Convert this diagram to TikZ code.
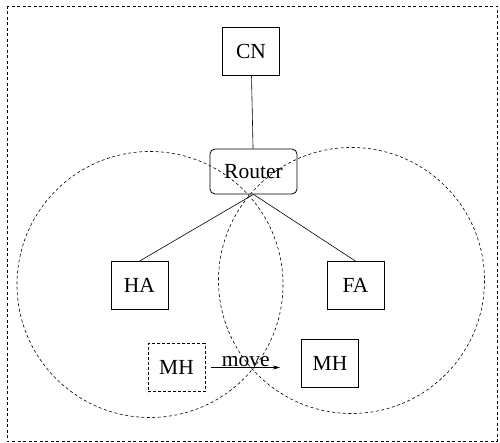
\documentclass[tikz,border=0pt]{standalone}
\usepackage{fontspec}
\setmainfont{Liberation Serif}
\usetikzlibrary{arrows.meta,calc}
\begin{document}
\begin{tikzpicture}[x=1pt,y=-1pt,
  box/.style={draw, line width=0.8pt, minimum width=57pt, minimum height=48pt, inner sep=0pt, font=\fontsize{21.5}{24}\selectfont},
  dbox/.style={box, dashed, dash pattern=on 3pt off 2pt},
  rbox/.style={box, rounded corners=5pt, minimum width=87pt, minimum height=45pt},
  cell/.style={draw, dash pattern=on 3pt off 2.5pt, line width=0.6pt},
  link/.style={line width=0.6pt}]
\useasboundingbox (0,0) rectangle (500,443);
\draw[cell] (7,6) rectangle (497,441);
\draw[cell] (150,284.5) circle (133);
\draw[cell] (351.5,280.5) circle (133);
\node[box] (cn) at (251,51) {CN};
\node[rbox] (router) at (253.5,171.5) {Router};
\node[box] (ha) at (139.5,285.5) {HA};
\node[box] (fa) at (355.5,285.5) {FA};
\node[dbox] (mh1) at (176.5,367.5) {MH};
\node[box] (mh2) at (330,363.5) {MH};
\draw[link] (cn) -- (router);
\draw[link] (router.south) -- (ha.north);
\draw[link] (router.south) -- (fa.north);
\coordinate (ms) at ($(mh1.east)+(6,0)$);
\coordinate (me) at (280,367.5);
\draw[link, -{Stealth[length=7pt,width=4pt]}] (ms) -- (me);
\node[font=\fontsize{21.5}{24}\selectfont, anchor=south, inner sep=1pt] (mv) at ($(ms)!0.5!(me)$) {move};
\end{tikzpicture}
\end{document}
